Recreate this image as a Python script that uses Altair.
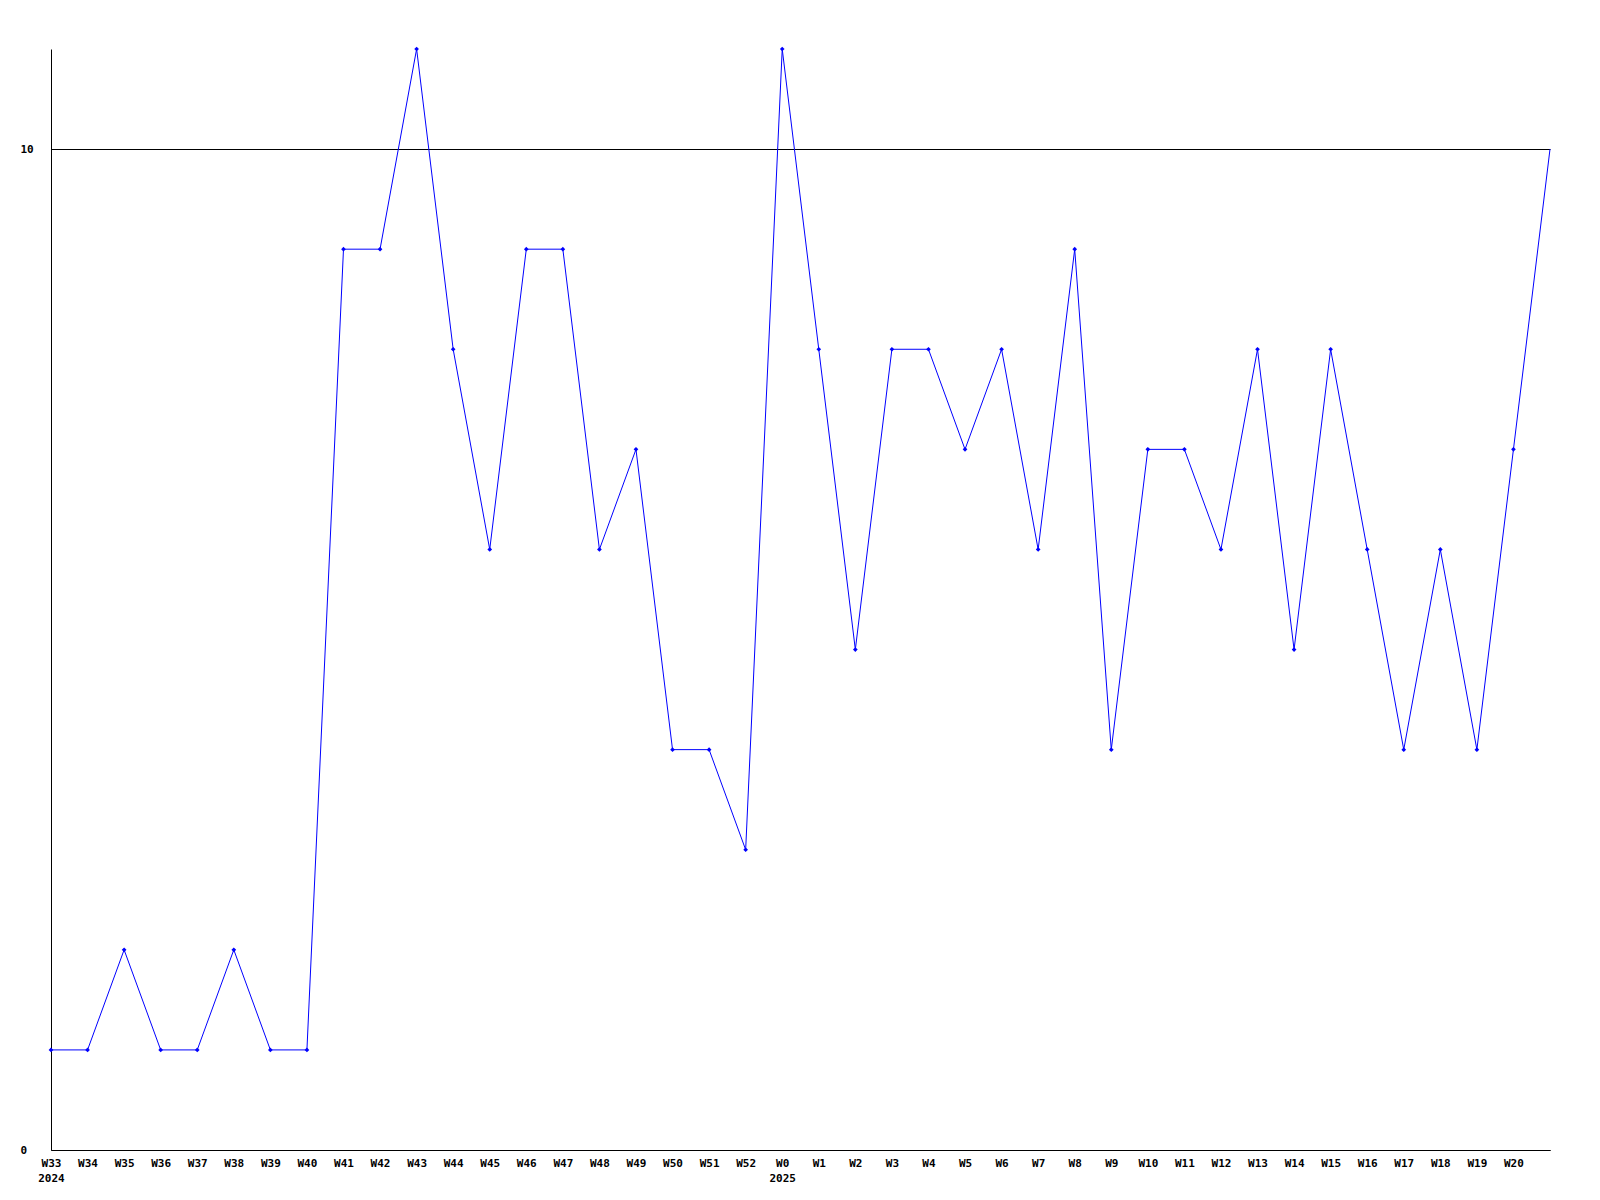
import json
import altair as alt
import pandas as pd

weeks = ["W33", "W34", "W35", "W36", "W37", "W38", "W39", "W40", "W41", "W42",
         "W43", "W44", "W45", "W46", "W47", "W48", "W49", "W50", "W51", "W52",
         "W0", "W1", "W2", "W3", "W4", "W5", "W6", "W7", "W8", "W9",
         "W10", "W11", "W12", "W13", "W14", "W15", "W16", "W17", "W18", "W19",
         "W20", "W21"]
values = [1, 1, 2, 1, 1, 2, 1, 1, 9, 9,
          11, 8, 6, 9, 9, 6, 7, 4, 4, 3,
          11, 8, 5, 8, 8, 7, 8, 6, 9, 4,
          7, 7, 6, 8, 5, 8, 6, 4, 6, 4,
          7, 10]
year_marks = {"W33": "2024", "W0": "2025"}
shown_labels = weeks[:-1]

df = pd.DataFrame({"idx": list(range(len(weeks))), "week": weeks, "value": values})
df["marker"] = df["idx"] < len(shown_labels)

label_list = [[w, year_marks[w]] if w in year_marks else w for w in shown_labels]
label_expr = json.dumps(label_list) + "[datum.value]"

FONT = "DejaVu Sans Mono"
x = alt.X("idx:Q", scale=alt.Scale(domain=[0, len(weeks) - 1], nice=False, zero=False),
          axis=alt.Axis(values=list(range(len(shown_labels))), labelExpr=label_expr,
                        title=None, grid=False, ticks=False, labelPadding=7,
                        labelFont=FONT, labelFontSize=11, labelFontWeight="bold",
                        labelColor="black", labelLineHeight=15, labelBaseline="top",
                        labelAlign="center", domainColor="black", labelOverlap=False,
                        labelBound=False, labelFlush=False))
y = alt.Y("value:Q", scale=alt.Scale(domain=[0, 11], nice=False, zero=True),
          axis=alt.Axis(values=[0, 10], title=None, grid=True, gridColor="black",
                        gridOpacity=1, gridWidth=1, ticks=False, labelPadding=31,
                        labelAlign="left", labelFont=FONT, labelFontSize=11,
                        labelFontWeight="bold", labelColor="black", domainColor="black"))

line = alt.Chart(df).mark_line(color="#0000ff", strokeWidth=1).encode(x=x, y=y)
pts = alt.Chart(df).transform_filter("datum.marker").mark_point(
    shape="diamond", filled=True, size=22, color="#0000ff", opacity=1).encode(x=x, y=y)

chart = (line + pts).properties(
    width=1499, height=1101,
    autosize=alt.AutoSizeParams(type="none"),
    padding={"left": 43, "top": 41, "right": 40, "bottom": 40},
    background="white",
).configure_view(stroke=None, strokeWidth=0)

chart.save("out.html", embed_options={"renderer": "svg", "actions": False})
